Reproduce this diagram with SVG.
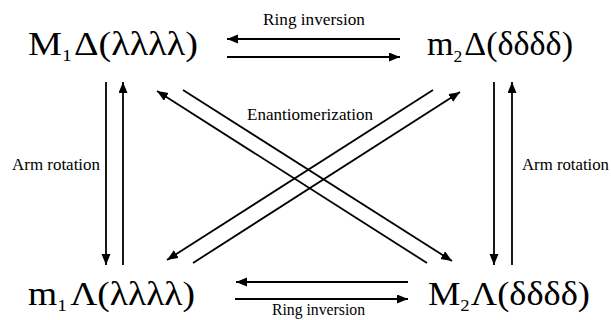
<svg xmlns="http://www.w3.org/2000/svg" width="611" height="320" viewBox="0 0 611 320">
<style>
text{font-family:"Liberation Serif","Times New Roman",serif;fill:#000}
.big{font-size:33px}
.sub{font-size:17px}
.lbl{font-size:17px}
.ln{stroke:#000;stroke-width:1.8;fill:none}
.arr{marker-end:url(#ah)}
</style>
<defs>
<marker id="ah" markerUnits="userSpaceOnUse" markerWidth="12" markerHeight="10" refX="11" refY="4.5" orient="auto">
<path d="M0,0 L11,4.5 L0,9 z" fill="#000"/>
</marker>
</defs>
<rect width="611" height="320" fill="#fff"/>
<g id="node-M1-delta">
<text class="big" x="28" y="55" textLength="170" lengthAdjust="spacingAndGlyphs">M<tspan class="sub" dy="6">1</tspan><tspan dx="2" dy="-6">Δ(λλλλ)</tspan></text>
</g>
<g id="node-m2-delta">
<text class="big" x="427" y="55" textLength="146" lengthAdjust="spacingAndGlyphs">m<tspan class="sub" dy="7">2</tspan><tspan dx="2" dy="-7">Δ(δδδδ)</tspan></text>
</g>
<g id="node-m1-lambda">
<text class="big" x="28" y="305" textLength="167" lengthAdjust="spacingAndGlyphs">m<tspan class="sub" dy="6">1</tspan><tspan dx="3" dy="-6">Λ(λλλλ)</tspan></text>
</g>
<g id="node-M2-lambda">
<text class="big" x="428" y="305" textLength="162" lengthAdjust="spacingAndGlyphs">M<tspan class="sub" dy="6">2</tspan><tspan dx="1" dy="-6">Λ(δδδδ)</tspan></text>
</g>
<g id="connectors">
<line class="ln arr" x1="400" y1="39" x2="227" y2="39"/>
<line class="ln arr" x1="227" y1="57" x2="400" y2="57"/>
<line class="ln arr" x1="408" y1="282" x2="236" y2="282"/>
<line class="ln arr" x1="235" y1="299" x2="408" y2="299"/>
<line class="ln arr" x1="106" y1="82" x2="106" y2="265"/>
<line class="ln arr" x1="123" y1="265" x2="123" y2="82"/>
<line class="ln arr" x1="494" y1="82" x2="494" y2="265"/>
<line class="ln arr" x1="512" y1="265" x2="512" y2="82"/>
<line class="ln arr" x1="427" y1="263" x2="157" y2="91"/>
<line class="ln arr" x1="183" y1="90" x2="452" y2="261"/>
<line class="ln arr" x1="433" y1="90" x2="167" y2="260"/>
<line class="ln arr" x1="193" y1="263" x2="460" y2="92"/>
</g>
<g id="labels">
<text class="lbl" x="263" y="25" textLength="102" lengthAdjust="spacingAndGlyphs">Ring inversion</text>
<text class="lbl" x="272" y="315" textLength="93" lengthAdjust="spacingAndGlyphs">Ring inversion</text>
<text class="lbl" x="247" y="120" textLength="126" lengthAdjust="spacingAndGlyphs">Enantiomerization</text>
<text class="lbl" x="12" y="170" textLength="88" lengthAdjust="spacingAndGlyphs">Arm rotation</text>
<text class="lbl" x="522" y="170" textLength="87" lengthAdjust="spacingAndGlyphs">Arm rotation</text>
</g>
</svg>
